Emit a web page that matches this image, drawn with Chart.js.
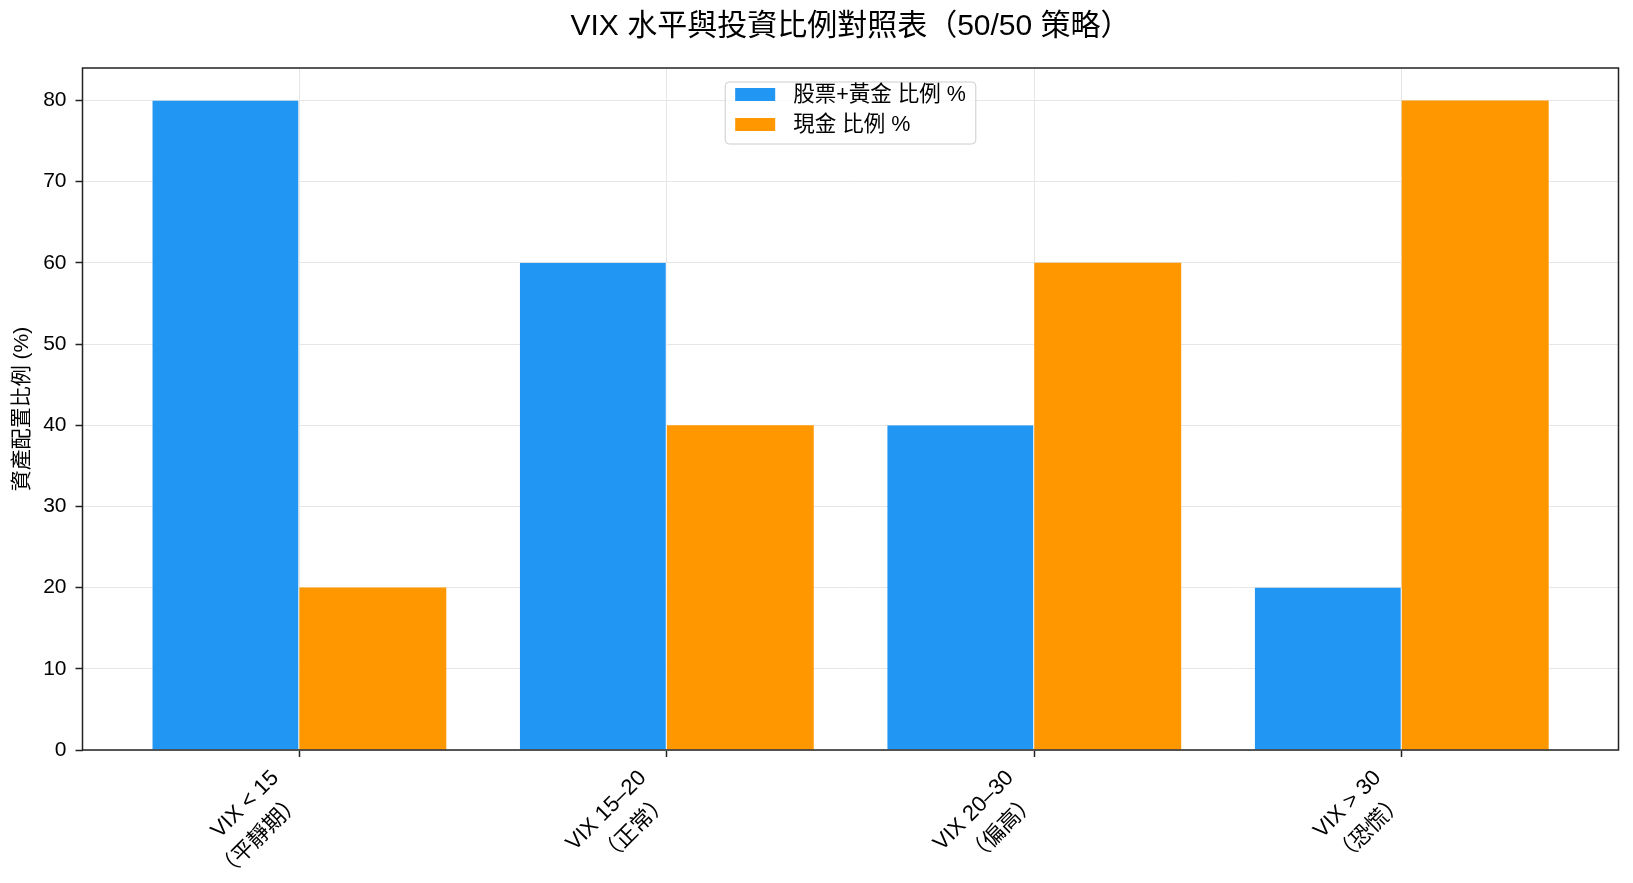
<!DOCTYPE html>
<html>
<head>
<meta charset="utf-8">
<script src="https://cdn.jsdelivr.net/npm/chart.js@4.4.0/dist/chart.umd.min.js"></script>
<style>
  html, body { margin: 0; padding: 0; background: #fff; }
</style>
</head>
<body>
<canvas id="myChart" width="1633" height="883"></canvas>
<script>
var chartTitle = 'VIX 水平與投資比例對照表（50/50 策略）';
var categories = [
    ['VIX < 15', '（平靜期）'],
    ['VIX 15–20', '（正常）'],
    ['VIX 20–30', '（偏高）'],
    ['VIX > 30', '（恐慌）']
];
var seriesNames = ['股票+黃金 比例 %', '現金 比例 %'];
var stockGold = [80, 60, 40, 20];
var cash = [20, 40, 60, 80];
var yTicks = [0, 10, 20, 30, 40, 50, 60, 70, 80];

var fontFamily = "'Liberation Sans', 'Noto Sans CJK TC', sans-serif";
var textColor = '#000';
var gridColor = '#e6e6e6';

function toPoints(values) {
    return values.map(function(v, i) { return {x: i, y: v}; });
}

// spines round the plot, title centred over the plot, legend box inside the plot
var frame = {
    id: 'frame',
    afterDatasetsDraw: function(chart) {
        var a = chart.chartArea, ctx = chart.ctx;
        ctx.save();
        ctx.strokeStyle = '#222';
        ctx.lineWidth = 1.5;
        ctx.strokeRect(a.left, a.top, a.right - a.left, a.bottom - a.top);
        ctx.restore();
    },
    afterDraw: function(chart) {
        var a = chart.chartArea, ctx = chart.ctx;
        var cx = (a.left + a.right) / 2;
        var sets = chart.data.datasets;
        ctx.save();

        ctx.font = '30px ' + fontFamily;
        ctx.fillStyle = textColor;
        ctx.textAlign = 'center';
        ctx.textBaseline = 'middle';
        ctx.fillText(chartTitle, cx, 27);

        ctx.textAlign = 'left';
        ctx.font = '21.5px ' + fontFamily;
        var textW = 0;
        sets.forEach(function(d) { textW = Math.max(textW, ctx.measureText(d.label).width); });
        var w = 10 + 40 + 18 + textW + 10, h = 62;
        var x0 = cx - w / 2, y0 = a.top + 14;
        ctx.beginPath();
        ctx.roundRect(x0, y0, w, h, 4);
        ctx.fillStyle = 'rgba(255,255,255,0.8)';
        ctx.fill();
        ctx.strokeStyle = '#cccccc';
        ctx.lineWidth = 1;
        ctx.stroke();
        sets.forEach(function(d, i) {
            var cy = y0 + 12.5 + i * 30;
            ctx.fillStyle = d.backgroundColor;
            ctx.fillRect(x0 + 10, cy - 6.5, 40, 13);
            ctx.fillStyle = textColor;
            ctx.fillText(d.label, x0 + 68, cy + 1);
        });
        ctx.restore();
    }
};

var canvas = document.getElementById('myChart');
var ctx = canvas.getContext('2d');

var myChart = new Chart(ctx, {
    type: 'bar',
    data: {
        datasets: [{
            label: seriesNames[0],
            data: toPoints(stockGold),
            backgroundColor: '#2196F3',
            borderColor: '#ffffff',
            borderWidth: {top: 0, right: 1, bottom: 0, left: 0},
            categoryPercentage: 0.8,
            barPercentage: 1.0
        }, {
            label: seriesNames[1],
            data: toPoints(cash),
            backgroundColor: '#FF9800',
            borderWidth: 0,
            categoryPercentage: 0.8,
            barPercentage: 1.0
        }]
    },
    options: {
        responsive: false,
        animation: false,
        devicePixelRatio: 1,
        layout: { padding: {left: 0, right: 8, top: 68, bottom: 0} },
        plugins: {
            legend: { display: false },
            tooltip: { enabled: false },
            title: { display: false }
        },
        scales: {
            x: {
                type: 'linear',
                min: -0.59,
                max: 3.59,
                offset: false,
                afterBuildTicks: function(s) {
                    s.ticks = categories.map(function(c, i) { return {value: i}; });
                },
                afterFit: function(s) { s.height = 133; },
                grid: { offset: false, color: gridColor, lineWidth: 1, tickColor: '#222', tickLength: 7, tickWidth: 1.5 },
                border: { display: false },
                ticks: {
                    autoSkip: false,
                    minRotation: 45,
                    maxRotation: 45,
                    padding: 6,
                    labelOffset: -24,
                    color: textColor,
                    font: { family: fontFamily, size: 22, lineHeight: 1.5 },
                    callback: function(v) { return categories[v]; }
                }
            },
            y: {
                min: 0,
                max: 84,
                afterBuildTicks: function(s) {
                    s.ticks = yTicks.map(function(v) { return {value: v}; });
                },
                afterFit: function(s) { s.width = 82.5; },
                grid: { color: gridColor, lineWidth: 1, tickColor: '#222', tickLength: 7, tickWidth: 1.5 },
                border: { display: false },
                ticks: {
                    padding: 9,
                    color: textColor,
                    font: { family: fontFamily, size: 21 }
                },
                title: {
                    display: true,
                    text: '資產配置比例 (%)',
                    color: textColor,
                    font: { family: fontFamily, size: 21 },
                    padding: { top: 10, bottom: 0 }
                }
            },
            y2: {
                position: 'right',
                display: true,
                grid: { display: false },
                ticks: { display: false },
                border: { display: false },
                afterFit: function(s) { s.width = 6.5; }
            }
        }
    },
    plugins: [frame]
});
</script>
</body>
</html>
